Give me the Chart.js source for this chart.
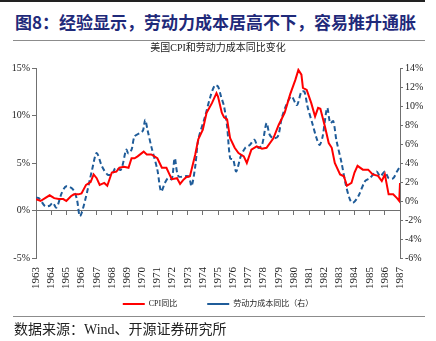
<!DOCTYPE html>
<html>
<head>
<meta charset="utf-8">
<script src="https://cdn.jsdelivr.net/npm/chart.js@4.4.1/dist/chart.umd.min.js"></script>
<style>
  body { margin: 0; width: 436px; height: 341px; background: #fff; position: relative; overflow: hidden; }
  .rule { position: absolute; left: 13px; width: 412px; height: 1px; background: #8c8c8c; }
  #topRule { position: absolute; left: 0; top: 0; width: 425px; height: 2px; background: #222; }
  #heading { position: absolute; left: 15px; top: 10px; font: bold 17px 'Noto Sans CJK SC', sans-serif; color: #1f2a7a; white-space: nowrap; line-height: 24px; }
  #source { position: absolute; left: 14px; top: 320px; font: 14px 'Liberation Serif', 'Noto Sans CJK SC', serif; color: #222; white-space: nowrap; line-height: 20px; }
  #wrap { position: absolute; left: 0; top: 40px; width: 436px; height: 278px; }
</style>
</head>
<body>
<div id="topRule"></div>
<div id="heading">图8：经验显示，劳动力成本居高不下，容易推升通胀</div>
<div class="rule" style="top:40px"></div>
<div id="wrap"><canvas id="chart"></canvas></div>
<div class="rule" style="top:316px"></div>
<div id="source">数据来源：Wind、开源证券研究所</div>
<script>
// ── DATA ──
const chartTitle = '美国CPI和劳动力成本同比变化';
const cpiLabel = 'CPI同比';
const laborLabel = '劳动力成本同比（右）';
const firstYear = 1963, lastYear = 1987;

const cpiYears = [1963.0, 1963.3, 1963.6, 1963.9, 1964.2, 1964.5, 1964.8, 1965.0, 1965.3, 1965.5,
    1965.8, 1966.0, 1966.3, 1966.6, 1966.8, 1967.0, 1967.2, 1967.5, 1967.7, 1968.0,
    1968.3, 1968.5, 1968.8, 1969.1, 1969.3, 1969.5, 1969.7, 1970.1, 1970.3, 1970.6,
    1971.0, 1971.3, 1971.6, 1971.8, 1971.95, 1972.3, 1972.5, 1972.7, 1972.9, 1973.15,
    1973.5, 1973.7, 1974.0, 1974.25, 1974.6, 1974.9, 1975.0, 1975.25, 1975.4, 1975.6,
    1975.8, 1976.1, 1976.35, 1976.7, 1976.9, 1977.2, 1977.55, 1977.9, 1978.2, 1978.65,
    1979.0, 1979.4, 1979.75, 1980.1, 1980.3, 1980.5, 1980.6, 1980.85, 1981.15, 1981.4,
    1981.6, 1981.75, 1982.05, 1982.3, 1982.5, 1982.7, 1983.05, 1983.3, 1983.5, 1983.8,
    1984.0, 1984.2, 1984.55, 1984.9, 1985.2, 1985.55, 1985.8, 1986.0, 1986.25, 1986.55,
    1986.8, 1986.95, 1987.0];
const cpiValues = [1.2, 1.0, 1.3, 1.6, 1.3, 1.2, 1.2, 1.0, 1.5, 1.7,
    1.7, 1.8, 2.7, 3.0, 3.8, 3.4, 2.7, 2.9, 2.6, 4.0,
    4.1, 4.5, 4.6, 4.5, 5.5, 5.5, 5.7, 6.2, 5.9, 5.9,
    5.5, 4.5, 4.5, 3.8, 3.3, 3.4, 2.8, 3.2, 3.5, 3.6,
    5.9, 7.5, 8.5, 10.3, 11.3, 12.35, 12.0, 10.3, 9.8, 9.6,
    7.6, 6.6, 6.05, 5.7, 5.0, 6.4, 6.75, 6.5, 6.6, 7.6,
    9.0, 10.3, 12.2, 13.75, 14.8, 14.3, 12.9, 12.7, 11.3, 9.9,
    10.8, 10.7, 8.85, 7.1, 6.6, 5.0, 3.8, 3.6, 2.6, 2.9,
    4.0, 4.7, 4.3, 4.3, 3.8, 3.65, 3.1, 3.8, 1.7, 1.7,
    1.3, 1.0, 2.9];

const laborYears = [1963.0, 1963.2, 1963.6, 1963.9, 1964.1, 1964.35, 1964.7, 1965.0, 1965.45, 1965.7,
    1965.9, 1966.25, 1966.7, 1967.0, 1967.35, 1967.7, 1968.0, 1968.25, 1968.6, 1968.95,
    1969.1, 1969.3, 1969.5, 1969.85, 1970.05, 1970.2, 1970.35, 1970.6, 1971.0, 1971.25,
    1971.5, 1971.7, 1971.95, 1972.15, 1972.4, 1973.05, 1973.25, 1973.5, 1973.7, 1974.15,
    1974.5, 1974.8, 1975.0, 1975.2, 1975.4, 1975.6, 1975.8, 1976.0, 1976.2, 1976.5,
    1976.8, 1977.1, 1977.4, 1977.65, 1977.9, 1978.2, 1978.4, 1978.65, 1978.95, 1979.2,
    1979.5, 1979.85, 1980.2, 1980.5, 1980.7, 1980.9, 1981.25, 1981.5, 1981.7, 1981.9,
    1982.2, 1982.4, 1982.6, 1982.8, 1983.15, 1983.4, 1983.7, 1983.9, 1984.25, 1984.7,
    1985.0, 1985.45, 1985.7, 1986.0, 1986.25, 1986.55, 1986.8, 1987.0];
const laborValues = [0.35, 0.3, -0.55, -0.5, -0.2, -0.7, 0.86, 1.55, 1.2, 0.15,
    -1.6, 0.15, 3.3, 5.05, 3.65, 2.8, 2.8, 3.5, 3.3, 5.4,
    5.0, 5.4, 6.8, 7.15, 7.4, 8.55, 7.5, 5.75, 3.3, 1.0,
    1.9, 2.4, 2.3, 4.5, 2.6, 2.6, 1.55, 3.65, 6.45, 8.9,
    11.0, 12.2, 12.05, 11.0, 9.95, 7.85, 4.5, 4.35, 3.1, 4.7,
    5.6, 5.9, 6.45, 5.6, 5.9, 8.2, 7.0, 6.6, 6.8, 8.7,
    10.1, 11.0, 10.1, 11.5, 11.5, 9.95, 8.0, 6.6, 5.9, 6.8,
    9.8, 8.2, 8.4, 6.45, 4.0, 1.9, 0.15, -0.2, 0.5, 2.1,
    2.4, 3.1, 2.6, 3.1, 2.4, 2.4, 3.1, 3.65];

// ── STYLE ──
const serif = "'Liberation Serif', 'Noto Sans CJK SC', serif";
const axisColor = '#707070';
const textColor = '#222';

const pct = v => v + '%';

// legend: wider gap after the first item, without growing the legend's height
const legendLabels = c => Chart.defaults.plugins.legend.labels.generateLabels(c)
    .map((it, i) => i === 0 ? { ...it, text: it.text + '          ' } : it);

// ── CHART ──
const ctx = document.getElementById('chart').getContext('2d');
const chart = new Chart(ctx, {
    type: 'line',
    data: {
        datasets: [{
            label: cpiLabel,
            data: cpiYears.map((x, i) => ({ x, y: cpiValues[i] })),
            borderColor: '#ff0000',
            borderWidth: 2,
            pointRadius: 0,
            tension: 0,
            yAxisID: 'y'
        }, {
            label: laborLabel,
            data: laborYears.map((x, i) => ({ x, y: laborValues[i] })),
            borderColor: '#1f5c99',
            borderWidth: 2,
            borderDash: [5, 3],
            pointRadius: 0,
            tension: 0.3,
            yAxisID: 'y2'
        }]
    },
    options: {
        responsive: true,
        maintainAspectRatio: false,
        animation: false,
        layout: { padding: 0 },
        scales: {
            x: {
                type: 'linear',
                position: 'bottom',
                min: firstYear, max: lastYear,
                grid: { display: false, drawTicks: false },
                border: { display: false },
                ticks: {
                    stepSize: 1, autoSkip: false,
                    maxRotation: 90, minRotation: 90,
                    padding: 9,
                    color: textColor,
                    font: { family: serif, size: 11 },
                    callback: v => String(v)
                },
                afterFit: s => { s.height = 32; }
            },
            x2: {
                type: 'linear',
                position: { y: 0 },
                min: firstYear, max: lastYear,
                grid: { drawOnChartArea: false, drawTicks: true, tickLength: 4, color: axisColor },
                border: { display: true, color: axisColor, width: 1 },
                ticks: { stepSize: 1, display: false }
            },
            y: {
                position: 'left',
                min: -5, max: 15,
                grid: { drawOnChartArea: false, drawTicks: true, tickLength: 4, color: axisColor },
                border: { display: true, color: axisColor },
                ticks: {
                    stepSize: 5, padding: 2,
                    color: textColor,
                    font: { family: serif, size: 10 },
                    callback: pct
                },
                afterFit: s => { s.width = 36; }
            },
            y2: {
                position: 'right',
                min: -6, max: 14,
                grid: { drawOnChartArea: false, drawTicks: true, tickLength: 3, color: axisColor },
                border: { display: true, color: axisColor },
                ticks: {
                    stepSize: 2, padding: 2,
                    color: textColor,
                    font: { family: serif, size: 10 },
                    callback: pct
                },
                afterFit: s => { s.width = 36; }
            }
        },
        plugins: {
            title: {
                display: true,
                text: chartTitle,
                color: '#222',
                font: { family: serif, size: 10, weight: 'normal' },
                padding: { top: 2, bottom: 14 }
            },
            legend: {
                position: 'bottom',
                labels: {
                    usePointStyle: true,
                    pointStyle: 'line',
                    pointStyleWidth: 22,
                    padding: 10,
                    color: textColor,
                    font: { family: serif, size: 8 },
                    generateLabels: legendLabels
                }
            },
            tooltip: { enabled: false }
        }
    }
});
</script>
</body>
</html>
